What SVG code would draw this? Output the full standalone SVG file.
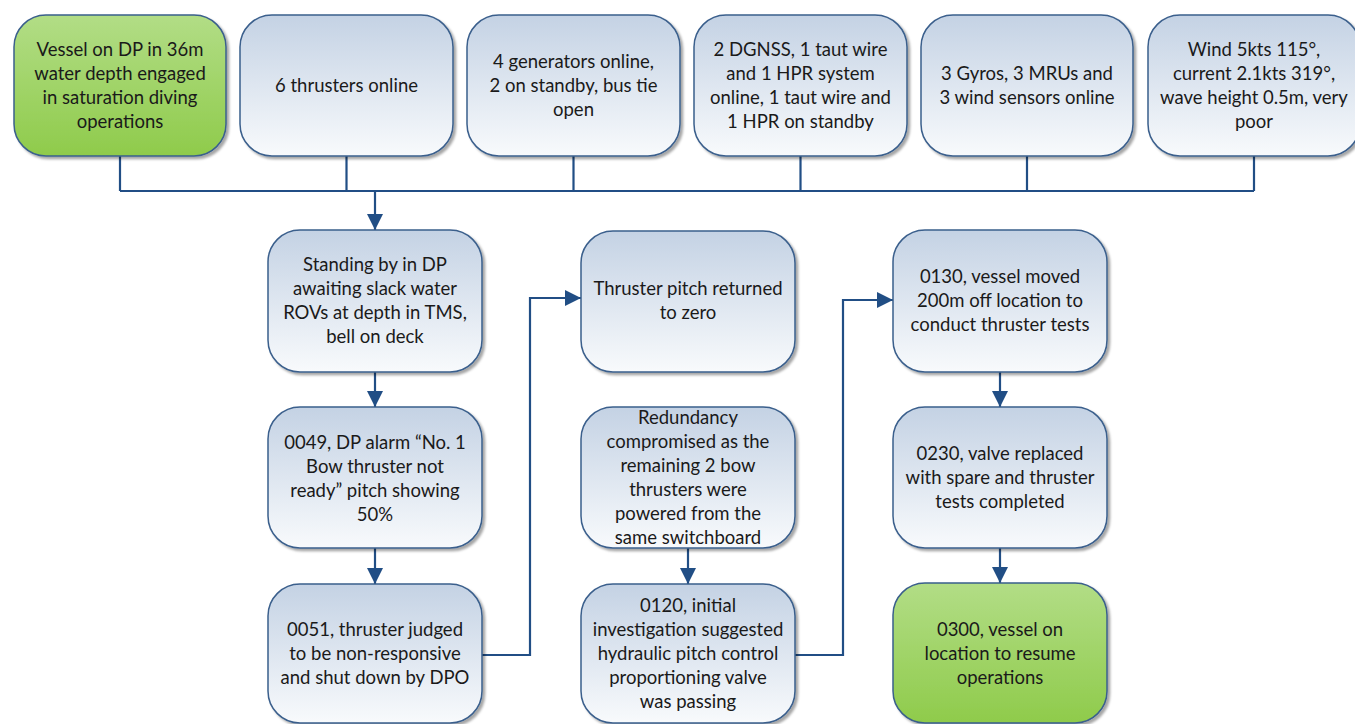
<svg xmlns="http://www.w3.org/2000/svg" width="1355" height="724" viewBox="0 0 1355 724">
<defs>
<linearGradient id="gb" x1="0" y1="0" x2="0" y2="1">
<stop offset="0" stop-color="#c4d2e4"/>
<stop offset="1" stop-color="#f8fafc"/>
</linearGradient>
<linearGradient id="gg" x1="0" y1="0" x2="0" y2="1">
<stop offset="0" stop-color="#b2dd86"/>
<stop offset="1" stop-color="#8fcb4b"/>
</linearGradient>
<filter id="sh" x="-10%" y="-10%" width="125%" height="125%">
<feDropShadow dx="2.5" dy="2.5" stdDeviation="1.2" flood-color="#000" flood-opacity="0.35"/>
</filter>
<marker id="ah" viewBox="0 0 10 10" refX="10" refY="5" markerWidth="16" markerHeight="16" markerUnits="userSpaceOnUse" orient="auto">
<path d="M0,0 L10,5 L0,10 z" fill="#214e85"/>
</marker>
<style>
.b{fill:url(#gb);stroke:#3a5f8c;stroke-width:1.5;filter:url(#sh)}
.g{fill:url(#gg);stroke:#3a5f8c;stroke-width:1.5;filter:url(#sh)}
text{font-family:Lato,"Open Sans","Liberation Sans",sans-serif;font-size:18.5px;fill:#1a1a1a;text-anchor:middle}
.c{fill:none;stroke:#214e85;stroke-width:2.2}
.a{fill:none;stroke:#214e85;stroke-width:2.2;marker-end:url(#ah)}
</style>
</defs>

<g id="connectors">
<path class="c" d="M120,156 V191 M346.5,156 V191 M573.5,156 V191 M800.5,156 V191 M1027,156 V191 M1254,156 V191 M120,191 H1254"/>
<path class="a" d="M375,192 V230"/>
<path class="a" d="M375,372 V407"/>
<path class="a" d="M375,548 V584"/>
<path class="a" d="M482,655 H530 V298 H581"/>
<path class="a" d="M688,548 V584"/>
<path class="a" d="M795,655 H843 V300 H893"/>
<path class="a" d="M1000,372 V407"/>
<path class="a" d="M1000,548 V583"/>
</g>

<g id="n1"><rect class="g" x="14" y="15" width="212" height="141" rx="32"/>
<text x="120" y="56">Vessel on DP in 36m</text><text x="120" y="80">water depth engaged</text><text x="120" y="104">in saturation diving</text><text x="120" y="128">operations</text></g>

<g id="n2"><rect class="b" x="240" y="15" width="213" height="141" rx="32"/>
<text x="346.5" y="92">6 thrusters online</text></g>

<g id="n3"><rect class="b" x="467" y="15" width="213" height="141" rx="32"/>
<text x="573.5" y="68">4 generators online,</text><text x="573.5" y="92">2 on standby, bus tie</text><text x="573.5" y="116">open</text></g>

<g id="n4"><rect class="b" x="694" y="15" width="213" height="141" rx="32"/>
<text x="800.5" y="56">2 DGNSS, 1 taut wire</text><text x="800.5" y="80">and 1 HPR system</text><text x="800.5" y="104">online, 1 taut wire and</text><text x="800.5" y="128">1 HPR on standby</text></g>

<g id="n5"><rect class="b" x="921" y="15" width="212" height="141" rx="32"/>
<text x="1027" y="80">3 Gyros, 3 MRUs and</text><text x="1027" y="104">3 wind sensors online</text></g>

<g id="n6"><rect class="b" x="1148" y="15" width="212" height="141" rx="32"/>
<text x="1254" y="56">Wind 5kts 115°,</text><text x="1254" y="80">current 2.1kts 319°,</text><text x="1254" y="104">wave height 0.5m, very</text><text x="1254" y="128">poor</text></g>

<g id="n7"><rect class="b" x="268" y="230" width="214" height="142" rx="32"/>
<text x="375" y="271">Standing by in DP</text><text x="375" y="295">awaiting slack water</text><text x="375" y="319">ROVs at depth in TMS,</text><text x="375" y="343">bell on deck</text></g>

<g id="n8"><rect class="b" x="268" y="407" width="214" height="141" rx="32"/>
<text x="375" y="449">0049, DP alarm “No. 1</text><text x="375" y="473">Bow thruster not</text><text x="375" y="497">ready” pitch showing</text><text x="375" y="521">50%</text></g>

<g id="n9"><rect class="b" x="268" y="584" width="214" height="139" rx="32"/>
<text x="375" y="636">0051, thruster judged</text><text x="375" y="660">to be non-responsive</text><text x="375" y="684">and shut down by DPO</text></g>

<g id="n10"><rect class="b" x="581" y="231" width="214" height="141" rx="32"/>
<text x="688" y="295">Thruster pitch returned</text><text x="688" y="319">to zero</text></g>

<g id="n11"><rect class="b" x="581" y="407" width="214" height="141" rx="32"/>
<text x="688" y="424">Redundancy</text><text x="688" y="448">compromised as the</text><text x="688" y="472">remaining 2 bow</text><text x="688" y="496">thrusters were</text><text x="688" y="520">powered from the</text><text x="688" y="544">same switchboard</text></g>

<g id="n12"><rect class="b" x="581" y="584" width="214" height="139" rx="32"/>
<text x="688" y="612">0120, initial</text><text x="688" y="636">investigation suggested</text><text x="688" y="660">hydraulic pitch control</text><text x="688" y="684">proportioning valve</text><text x="688" y="708">was passing</text></g>

<g id="n13"><rect class="b" x="893" y="230" width="214" height="142" rx="32"/>
<text x="1000" y="283">0130, vessel moved</text><text x="1000" y="307">200m off location to</text><text x="1000" y="331">conduct thruster tests</text></g>

<g id="n14"><rect class="b" x="893" y="407" width="214" height="141" rx="32"/>
<text x="1000" y="460">0230, valve replaced</text><text x="1000" y="484">with spare and thruster</text><text x="1000" y="508">tests completed</text></g>

<g id="n15"><rect class="g" x="893" y="583" width="214" height="140" rx="32"/>
<text x="1000" y="636">0300, vessel on</text><text x="1000" y="660">location to resume</text><text x="1000" y="684">operations</text></g>
</svg>
